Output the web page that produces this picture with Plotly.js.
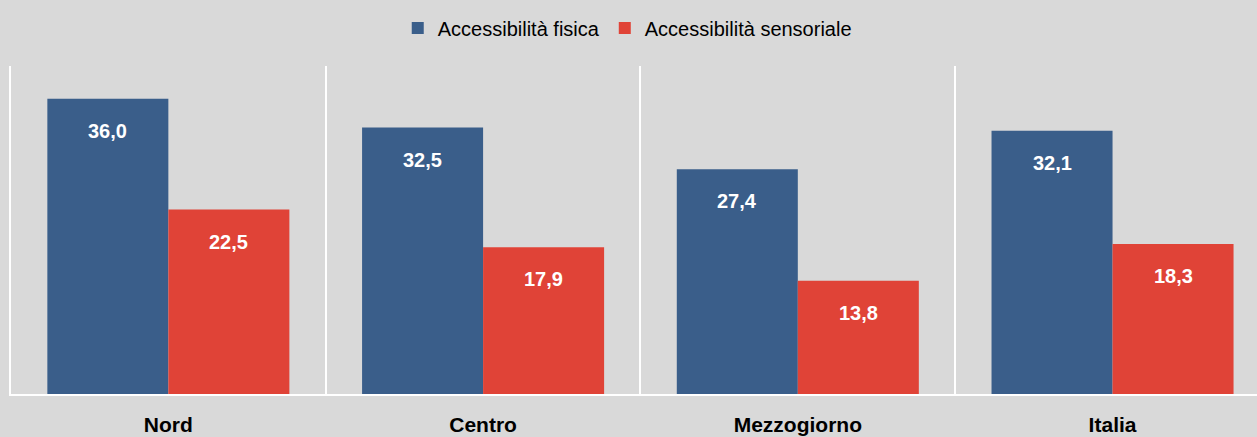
<!DOCTYPE html>
<html><head><meta charset="utf-8">
<script src="https://cdn.plot.ly/plotly-3.0.1.min.js"></script>
<style>html,body{margin:0;padding:0;background:#D9D9D9;}#chart{width:1257px;height:437px;}</style>
</head><body><div id="chart"></div>
<script>
const categories = ["Nord", "Centro", "Mezzogiorno", "Italia"];
const seriesNames = ["Accessibilità fisica", "Accessibilità sensoriale"];
const fisica = [36.0, 32.5, 27.4, 32.1];
const sensoriale = [22.5, 17.9, 13.8, 18.3];

const FONT = '"Liberation Sans", Arial, sans-serif';
const BLUE = '#3A5E8A';
const RED = '#E04337';

const traces = [
  {type:'bar', name: seriesNames[0], x: categories, y: fisica, marker:{color:BLUE}, hoverinfo:'skip'},
  {type:'bar', name: seriesNames[1], x: categories, y: sensoriale, marker:{color:RED}, hoverinfo:'skip'}
];

const fmt = v => v.toFixed(1).replace('.', ',');
const annotations = [];
[fisica, sensoriale].forEach((vals, si) => {
  vals.forEach((v, i) => {
    annotations.push({x: categories[i], y: v, xref:'x', yref:'y', text: '<b>' + fmt(v) + '</b>',
      showarrow:false, xshift: si === 0 ? -60.5 : 60.5, yshift:-32,
      font:{family:FONT, size:20, color:'#FFFFFF'}});
  });
});

const layout = {
  width:1257, height:437,
  paper_bgcolor:'#D9D9D9', plot_bgcolor:'#D9D9D9',
  margin:{l:11, r:0, t:66, b:43},
  barmode:'group', bargap:0.231, bargroupgap:0,
  showlegend:true,
  legend:{orientation:'h', xref:'container', yref:'container', x:0.499, xanchor:'center', y:1-28/437, yanchor:'middle',
    font:{family:FONT, size:20, color:'#000'}, bgcolor:'rgba(0,0,0,0)', traceorder:'normal'},
  xaxis:{type:'category', range:[-0.5, 3.459], tickson:'boundaries', showgrid:true, gridcolor:'#FFFFFF', gridwidth:2,
    showline:true, linecolor:'#FFFFFF', linewidth:2, ticks:'', ticklabelstandoff:11,
    tickfont:{family:FONT, size:21, color:'#000', weight:'bold'}, zeroline:false, fixedrange:true},
  yaxis:{range:[0,40], showgrid:false, showticklabels:false, zeroline:false, showline:true, linecolor:'#FFFFFF', linewidth:2, ticks:'', fixedrange:true},
  annotations: annotations
};
Plotly.newPlot('chart', traces, layout, {displayModeBar:false, staticPlot:true});
</script></body></html>
